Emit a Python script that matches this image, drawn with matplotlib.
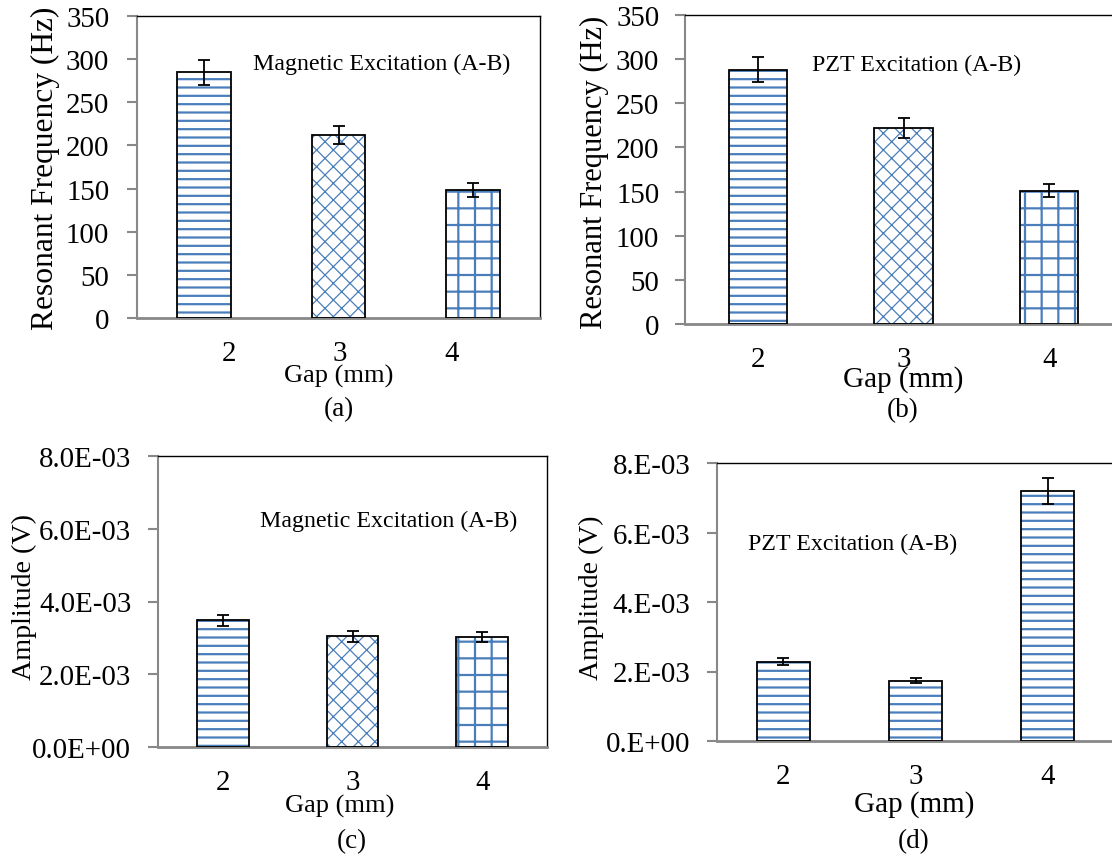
import matplotlib
matplotlib.use("Agg")
import matplotlib.pyplot as plt
from matplotlib.ticker import FixedLocator, FuncFormatter

# Gap values (mm) and measurements
gaps = ["2", "3", "4"]

freq_mag = [285, 212, 148]
freq_mag_err = [14.5, 10.5, 8]
freq_pzt = [288, 222, 151]
freq_pzt_err = [14, 11, 7.5]

amp_mag = [3.49e-3, 3.05e-3, 3.02e-3]
amp_mag_err = [0.15e-3, 0.15e-3, 0.14e-3]
amp_pzt = [2.28e-3, 1.73e-3, 7.2e-3]
amp_pzt_err = [0.10e-3, 0.07e-3, 0.37e-3]

freq_ticks = [0, 50, 100, 150, 200, 250, 300, 350]
amp_ticks = [0, 2e-3, 4e-3, 6e-3, 8e-3]

W, H = 1112, 862
DPI = 100
plt.rcParams["font.family"] = ["Liberation Serif", "DejaVu Serif"]

fig = plt.figure(figsize=(W / DPI, H / DPI), dpi=DPI)

BLUE = "#4a7ebb"
SPINE_GREY = "#888888"


def px_axes(left, top, right, bottom):
    return fig.add_axes([left / W, 1 - bottom / H, (right - left) / W, (bottom - top) / H])


def fig_xy(x, y):
    return x / W, 1 - y / H


def draw_panel(ax, values, errors, hatches, ymax, yticks, fmt, ylabel, ylab_size,
               note, note_xy, ylab_xy, xlab_xy, xlab_size, cap_xy, tick_pad_px,
               label_pos=None):
    xs = list(range(len(values)))
    for x, v, h in zip(xs, values, hatches):
        bar = ax.bar(x, v, width=0.4, color="white", edgecolor=BLUE,
                     hatch=h, linewidth=0, zorder=2)[0]
        if hasattr(bar, "set_hatch_linewidth"):
            bar.set_hatch_linewidth(1.6 if h in ("--", "+") else 0.9)
    ax.bar(xs, values, width=0.4, fill=False, edgecolor="black",
           linewidth=1.3, zorder=3)
    ax.errorbar(xs, values, yerr=errors, fmt="none", ecolor="black",
                elinewidth=1.3, capsize=4.5, capthick=1.3, zorder=4)

    ax.set_xlim(-0.5, len(values) - 0.5)
    ax.set_ylim(0, ymax)
    ax.yaxis.set_major_locator(FixedLocator(yticks))
    ax.yaxis.set_major_formatter(FuncFormatter(fmt))
    ax.set_xticks(label_pos if label_pos is not None else xs)
    ax.set_xticklabels(gaps)

    for side in ("top", "right"):
        ax.spines[side].set_color("black")
        ax.spines[side].set_linewidth(1.0)
    ax.spines["left"].set_color(SPINE_GREY)
    ax.spines["left"].set_linewidth(1.5)
    ax.spines["bottom"].set_color(SPINE_GREY)
    ax.spines["bottom"].set_linewidth(2.0)

    ax.tick_params(axis="y", direction="out", length=7, width=1.5,
                   color=SPINE_GREY, pad=tick_pad_px * 0.72, labelsize=20.8)
    ax.tick_params(axis="x", length=0, pad=16, labelsize=20.8)

    ax.text(note_xy[0], note_xy[1], note, transform=ax.transAxes,
            fontsize=17.2, va="center", ha="left")

    fig.text(*fig_xy(*ylab_xy), ylabel, rotation=90, fontsize=ylab_size,
             ha="center", va="center")
    fig.text(*fig_xy(*xlab_xy), "Gap (mm)", fontsize=xlab_size,
             ha="center", va="center")
    fig.text(*fig_xy(*cap_xy[1:]), cap_xy[0], fontsize=19.5,
             ha="center", va="center")


def fmt_int(v, pos):
    return f"{v:.0f}"


def fmt_sci1(v, pos):
    return f"{v:.1E}"


def fmt_sci0(v, pos):
    return f"{v:#.0E}"


hatch3 = ["--", "xx", "+"]

ax_a = px_axes(137, 17, 540, 319)
draw_panel(ax_a, freq_mag, freq_mag_err, hatch3, 350, freq_ticks, fmt_int,
           "Resonant Frequency (Hz)", 22.7, "Magnetic Excitation (A-B)",
           (0.288, 0.844), (45, 168), (339, 376), 19, ("(a)", 339, 410), 18,
           label_pos=[0.185, 1.01, 1.845])

ax_b = px_axes(685, 16, 1122, 325)
draw_panel(ax_b, freq_pzt, freq_pzt_err, hatch3, 350, freq_ticks, fmt_int,
           "Resonant Frequency (Hz)", 22.0, "PZT Excitation (A-B)",
           (0.291, 0.841), (594, 172), (903, 380), 21, ("(b)", 903, 411), 16)

ax_c = px_axes(158, 457, 547, 748)
draw_panel(ax_c, amp_mag, amp_mag_err, hatch3, 8e-3, amp_ticks, fmt_sci1,
           "Amplitude (V)", 20.2, "Magnetic Excitation (A-B)",
           (0.262, 0.777), (24, 597), (340, 806), 19, ("(c)", 352, 842), 17)

ax_d = px_axes(717, 464, 1114, 742)
draw_panel(ax_d, amp_pzt, amp_pzt_err, ["--", "--", "--"], 8e-3, amp_ticks,
           fmt_sci0, "Amplitude (V)", 20.0, "PZT Excitation (A-B)",
           (0.078, 0.709), (591, 598), (914, 805), 21, ("(d)", 914, 842), 17)

fig.savefig("out.png", dpi=DPI)
